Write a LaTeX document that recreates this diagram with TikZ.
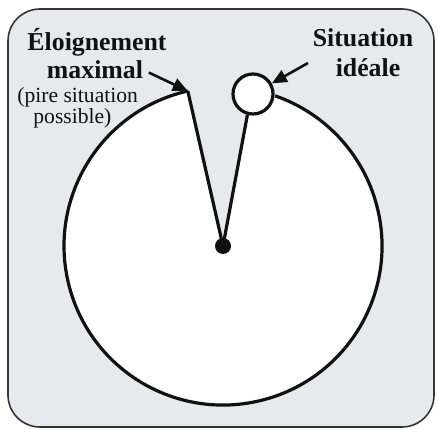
\documentclass[tikz,border=0pt]{standalone}
\usepackage{fontspec}
\setmainfont{Liberation Serif}
\usetikzlibrary{arrows.meta}
\definecolor{panel}{HTML}{E6EAEF}
\definecolor{ink}  {HTML}{111111}

\begin{document}
\begin{tikzpicture}[x=0.5pt,y=0.5pt,
    lbl/.style={font=\fontsize{12.9}{14}\selectfont\bfseries, color=ink, inner sep=0pt},
    note/.style={font=\fontsize{10.8}{10.5}\selectfont, color=ink, align=left, inner sep=0pt},
    edge/.style={ink, line width=1.6pt},
    pointer/.style={ink, line width=1.3pt, -{Triangle[length=7.5pt,width=6.5pt]}}]
  \useasboundingbox (0,0) rectangle (438,428);
  \draw[ink!85, line width=0.8pt, fill=panel, rounded corners=16pt] (8,1) rectangle (434,419);
  % disc with the wedge taken out
  \coordinate (worst) at (187.8,337);
  \node[circle, fill=ink, minimum size=8pt, inner sep=0pt] (hub) at (223,182) {};
  \fill[white] (hub.center) -- (worst) arc[start angle=102.8, end angle=430.9, radius=79.5pt] -- (248,315) -- cycle;
  \draw[edge] (worst) arc[start angle=102.8, end angle=430.9, radius=79.5pt];
  \node[circle, draw=ink, line width=1.6pt, fill=white, minimum size=20pt, inner sep=0pt] (ideal) at (253,334) {};
  \draw[edge] (hub.center) -- (worst);
  \draw[edge] (hub.center) -- (ideal.255);
  \node[circle, fill=ink, minimum size=8pt, inner sep=0pt] at (hub) {};
  % labels
  \node[lbl] (far1) at (97,386) {Éloignement};
  \node[lbl] (far2) at (95,358) {maximal};
  \node[note, anchor=west] (worse) at (17,320) {(pire situation\\\hspace{8pt}possible)};
  \draw[pointer, shorten <=3pt] (far2.east) -- (worst);
  \node[lbl] (best1) at (363,390) {Situation};
  \node[lbl] (best2) at (368,360) {idéale};
  \coordinate (tail) at (308,365);
  \draw[pointer] (tail) -- (ideal);
\end{tikzpicture}
\end{document}
